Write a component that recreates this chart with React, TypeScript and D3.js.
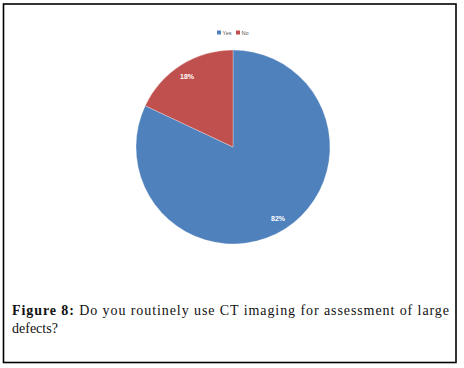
import React from "react";
import * as d3 from "d3";

const categories = ["Yes", "No"];
const values = [82, 18];
const colors = ["#4F81BD", "#C0504D"];
const labels = ["82%", "18%"];

export default function App() {
  const W = 464, H = 368;
  const cx = 233, cy = 147, r = 97;
  const pie = d3.pie<number>().sort(null).startAngle(0).endAngle(2 * Math.PI)(values);
  const arc = d3.arc<d3.PieArcDatum<number>>().innerRadius(0).outerRadius(r);
  const labelPos = [
    [278, 219],
    [187, 77],
  ];
  return (
    <svg width={W} height={H} style={{ position: "absolute", left: 0, top: 0 }}>
      <rect x={3.5} y={4} width={452.5} height={358.5} fill="white" stroke="black" strokeWidth={1.6} />
      <g transform={`translate(${cx},${cy})`}>
        {pie.map((d, i) => (
          <path key={i} d={arc(d) || ""} fill={colors[i]} stroke="#ffffff" strokeOpacity={0.5} strokeWidth={0.6} />
        ))}
      </g>
      {labels.map((l, i) => (
        <text key={l} x={labelPos[i][0]} y={labelPos[i][1]} fill="white" fontSize={7} fontWeight="bold"
          fontFamily="Liberation Sans, Arial, sans-serif" textAnchor="middle" dominantBaseline="middle">{l}</text>
      ))}
      <g fontFamily="Liberation Sans, Arial, sans-serif" fontSize={5.5} fill="#555">
        {categories.map((c, i) => (
          <g key={c} transform={`translate(${217 + i * 19},30.5)`}>
            <rect width={4} height={4} fill={colors[i]} />
            <text x={5.5} y={4}>{c}</text>
          </g>
        ))}
      </g>
      <g fontFamily="Liberation Serif, serif" fontSize={14} fill="#111">
        <text x={12} y={315} textLength={437} lengthAdjust="spacing">
          <tspan fontWeight="bold">Figure 8:</tspan> Do you routinely use CT imaging for assessment of large
        </text>
        <text x={12} y={333}>defects?</text>
      </g>
    </svg>
  );
}
